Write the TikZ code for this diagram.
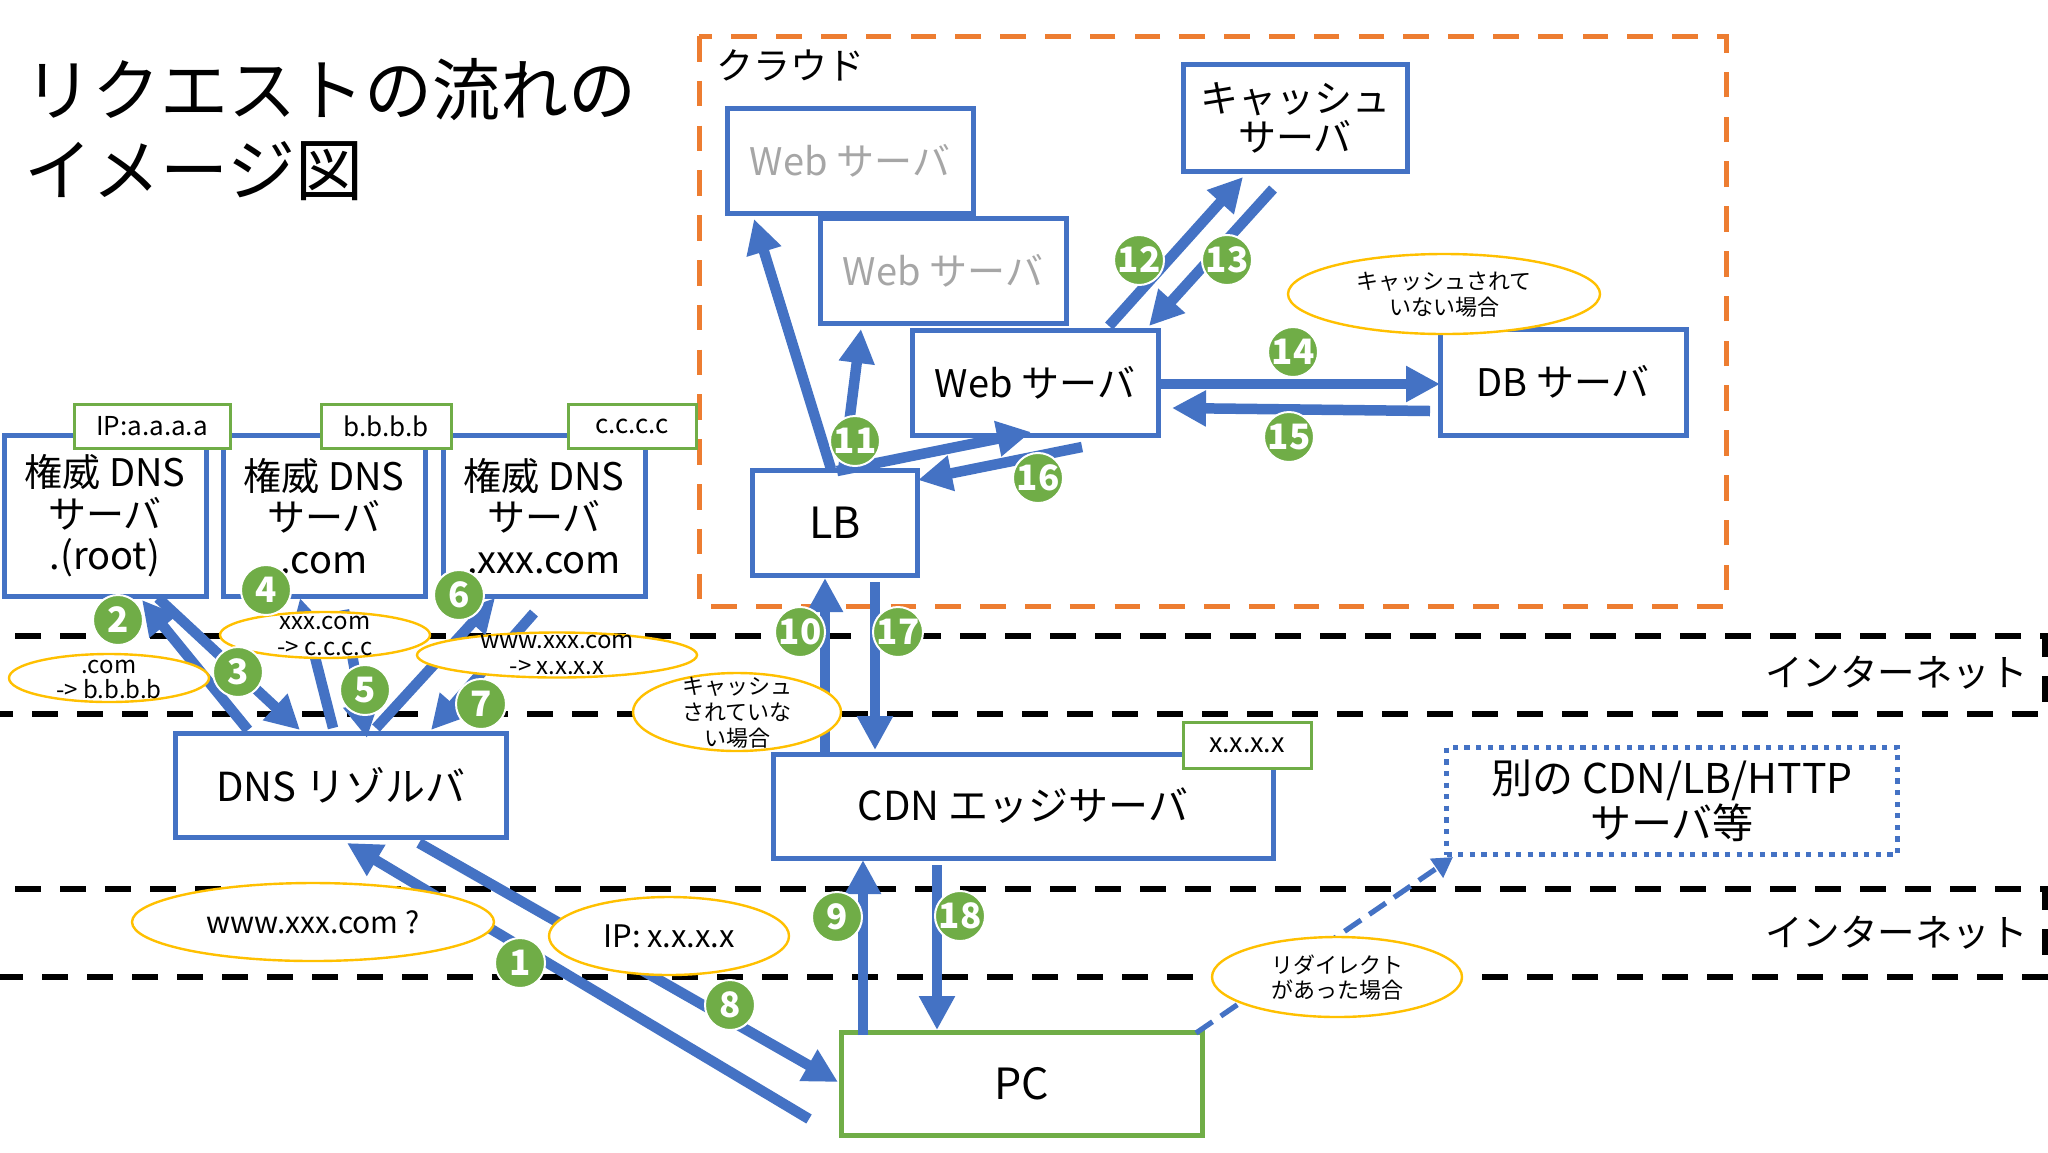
\documentclass[tikz,border=0pt]{standalone}
\usepackage{fontspec}
\setmainfont{Noto Sans CJK JP}
\usetikzlibrary{arrows.meta,shapes.geometric}
\definecolor{bl}{HTML}{4472C4}
\definecolor{gr}{HTML}{70AD47}
\definecolor{og}{HTML}{ED7D31}
\definecolor{yl}{HTML}{FFC000}
\definecolor{gy}{HTML}{A6A6A6}
\newcommand\fsz[2]{\fontsize{#1pt}{#2pt}\selectfont}
\begin{document}
\begin{tikzpicture}[x=0.5pt,y=-0.5pt,
  box/.style={draw=bl, line width=2.5pt, fill=white, inner sep=0pt, align=center, font={\fsz{19}{21}}},
  lbl/.style={draw=gr, line width=1.5pt, fill=white, inner sep=0pt, font={\fsz{13}{15}}},
  arr/.style={draw=bl, line width=5.25pt, -{Triangle[length=17pt,width=17pt]}},
  num/.style={circle, fill=gr, draw=white, line width=1pt, minimum size=25pt, inner sep=0pt, text=white, font={\bfseries\fsz{17.5}{17.5}}},
  ell/.style={draw=yl, line width=1.2pt, fill=white},
  etxt/.style={align=center, inner sep=0pt},
  band/.style={draw=black, line width=3pt, dash pattern=on 13pt off 9.5pt},
]
\useasboundingbox (0,0) rectangle (2048,1152);
\fill[white] (0,0) rectangle (2048,1152);

% title
\node[anchor=west, inner sep=0pt, align=left, font={\fsz{34}{40}}] (title) at (24,130) {リクエストの流れの\\イメージ図};

% internet bands
\draw[band] (-30,636) -- (2045,636) -- (2045,714) -- (-30,714);
\draw[band] (-30,889) -- (2045,889) -- (2045,977) -- (-30,977);
\node[anchor=east, inner sep=0pt, font={\fsz{18.75}{20}}] (net1) at (2028,673) {インターネット};
\node[anchor=east, inner sep=0pt, font={\fsz{18.75}{20}}] (net2) at (2028,933) {インターネット};

% cloud
\draw[draw=og, line width=2.5pt, dash pattern=on 12.8pt off 9.6pt] (699,36) rectangle (1726,606);
\node[anchor=west, inner sep=0pt, font={\fsz{18.5}{20}}] (cloud) at (716,65) {クラウド};

% servers in cloud
\node[box, minimum width=123pt, minimum height=52.5pt, text=gy] (web1) at (850,161) {Web サーバ};
\node[box, minimum width=123pt, minimum height=52.5pt, text=gy] (web2) at (943,271) {Web サーバ};
\node[box, minimum width=123pt, minimum height=52.5pt] (web) at (1035,383) {Web サーバ};
\node[box, minimum width=112pt, minimum height=53.5pt, font={\fsz{19}{19.5}}] (cache) at (1295,118) {キャッシュ\\サーバ};
\node[box, minimum width=123pt, minimum height=53pt] (db) at (1563,382) {DB サーバ};
\node[box, minimum width=82.5pt, minimum height=52.5pt, font={\fsz{21.5}{22}}] (lb) at (835,523) {LB};

% DNS authority
\node[box, minimum width=101pt, minimum height=80.5pt, font={\fsz{19}{20.75}}] (root) at (105,516) {権威 DNS\\サーバ\\.(root)};
\node[box, minimum width=101pt, minimum height=80.5pt, font={\fsz{19}{20.75}}] (com) at (324,516) {権威 DNS\\サーバ\\.com};
\node[box, minimum width=101pt, minimum height=80.5pt, font={\fsz{19}{20.75}}] (xxx) at (544,516) {権威 DNS\\サーバ\\.xxx.com};
\node[lbl, minimum width=78pt, minimum height=22pt] (ipa) at (152,426) {IP:a.a.a.a};
\node[lbl, minimum width=65pt, minimum height=22pt] (ipb) at (386,426) {b.b.b.b};
\node[lbl, minimum width=64pt, minimum height=22pt] (ipc) at (632,426) {c.c.c.c};

% resolver, cdn, pc, other
\node[box, minimum width=165.5pt, minimum height=52pt, font={\fsz{20}{22}}] (res) at (341,785) {DNS リゾルバ};
\node[box, minimum width=250pt, minimum height=52pt, font={\fsz{20}{22}}] (cdn) at (1023,806) {CDN エッジサーバ};
\node[lbl, minimum width=64pt, minimum height=23pt, font={\fsz{13.5}{15}}] (ipx) at (1247,745) {x.x.x.x};
\node[box, draw=gr, minimum width=180.5pt, minimum height=51.5pt, font={\fsz{21.5}{22}}] (pc) at (1022,1084) {PC};
\node[box, minimum width=225.5pt, minimum height=53.5pt, dash pattern=on 2.6pt off 3.2pt, font={\fsz{20.5}{22.5}}] (other) at (1672,801) {別の CDN/LB/HTTP\\サーバ等};

% arrow end points
\coordinate (p1a) at (809,1119); \coordinate (p1b) at (347,843);
\coordinate (p8a) at (419,843);  \coordinate (p8b) at (838,1082);
\coordinate (p2a) at (248,730);  \coordinate (p2b) at (142,600);
\coordinate (p3a) at (158,598);  \coordinate (p3b) at (300,730);
\coordinate (p4a) at (333,728);  \coordinate (p4b) at (300,598);
\coordinate (p5a) at (344,610);  \coordinate (p5b) at (367,738);
\coordinate (p6a) at (376,728);  \coordinate (p6b) at (495,598);
\coordinate (p7a) at (534,613);  \coordinate (p7b) at (431,730);
\coordinate (p10a) at (825,754); \coordinate (p10b) at (825,578);
\coordinate (p17a) at (875,582); \coordinate (p17b) at (875,750);
\coordinate (p9a) at (863,1035); \coordinate (p9b) at (863,860);
\coordinate (p18a) at (937,865); \coordinate (p18b) at (937,1030);
\coordinate (p11a) at (831,469); \coordinate (p11b) at (754,219);
\coordinate (p11c) at (843,471); \coordinate (p11d) at (861,329);
\coordinate (p11e) at (837,471); \coordinate (p11f) at (1031,432);
\coordinate (p16a) at (1082,447); \coordinate (p16b) at (918,480);
\coordinate (p12a) at (1109,326); \coordinate (p12b) at (1243,177);
\coordinate (p13a) at (1273,189); \coordinate (p13b) at (1149,326);
\coordinate (p14a) at (1159,384); \coordinate (p14b) at (1440,384);
\coordinate (p15a) at (1430,411); \coordinate (p15b) at (1172,408);
\coordinate (rda) at (1196,1033); \coordinate (rdb) at (1453,857);

% arrows
\draw[arr] (p1a) -- (p1b);
\draw[arr] (p8a) -- (p8b);
\draw[arr] (p2a) -- (p2b);
\draw[arr] (p3a) -- (p3b);
\draw[arr] (p4a) -- (p4b);
\draw[arr] (p5a) -- (p5b);
\draw[arr] (p6a) -- (p6b);
\draw[arr] (p7a) -- (p7b);
\draw[arr] (p10a) -- (p10b);
\draw[arr] (p17a) -- (p17b);
\draw[arr] (p9a) -- (p9b);
\draw[arr] (p18a) -- (p18b);
\draw[arr] (p11a) -- (p11b);
\draw[arr] (p11c) -- (p11d);
\draw[arr] (p11e) -- (p11f);
\draw[arr] (p16a) -- (p16b);
\draw[arr] (p12a) -- (p12b);
\draw[arr] (p13a) -- (p13b);
\draw[arr] (p14a) -- (p14b);
\draw[arr] (p15a) -- (p15b);
\draw[draw=bl, line width=2.6pt, dash pattern=on 10pt off 5pt, -{Triangle[length=10pt,width=11pt]}] (rda) -- (rdb);

% ellipses
\draw[ell] (109,678) ellipse [x radius=100, y radius=24];
\node[etxt, font={\fsz{12}{12.5}}] (ecom) at (109,679) {.com\\-> b.b.b.b};
\draw[ell] (325,635) ellipse [x radius=105, y radius=23];
\node[etxt, font={\fsz{12}{13}}] (exxx) at (325,636) {xxx.com\\-> c.c.c.c};
\draw[ell] (557,655) ellipse [x radius=140, y radius=22.5];
\node[etxt, font={\fsz{12}{13}}] (ewww) at (557,655) {www.xxx.com\\-> x.x.x.x};
\draw[ell] (737,712) ellipse [x radius=104, y radius=39];
\node[etxt, font={\fsz{11}{13}}] (ecdn) at (737,713) {キャッシュ\\されていな\\い場合};
\draw[ell] (313,922) ellipse [x radius=181, y radius=39];
\node[etxt, font={\fsz{15}{16}}] (eq) at (313,922) {www.xxx.com ?};
\draw[ell] (669,936) ellipse [x radius=120, y radius=39];
\node[etxt, font={\fsz{15.5}{16}}] (eip) at (669,936) {IP: x.x.x.x};
\draw[ell] (1337,977) ellipse [x radius=125, y radius=40];
\node[etxt, font={\fsz{11}{12.5}}] (erd) at (1337,978) {リダイレクト\\があった場合};
\draw[ell] (1444,294) ellipse [x radius=156, y radius=40];
\node[etxt, font={\fsz{11}{13}}] (edb) at (1444,295) {キャッシュされて\\いない場合};

% numbers
\node[num] (n1) at (520,963) {1};
\node[num] (n2) at (118,620) {2};
\node[num] (n3) at (238,672) {3};
\node[num] (n4) at (266,590) {4};
\node[num] (n5) at (365,690) {5};
\node[num] (n6) at (459,595) {6};
\node[num] (n7) at (481,704) {7};
\node[num] (n8) at (730,1005) {8};
\node[num] (n9) at (837,917) {9};
\node[num] (n10) at (800,632) {10};
\node[num] (n11) at (855,441) {11};
\node[num] (n12) at (1139,260) {12};
\node[num] (n13) at (1227,260) {13};
\node[num] (n14) at (1293,352) {14};
\node[num] (n15) at (1289,437) {15};
\node[num] (n16) at (1038,478) {16};
\node[num] (n17) at (898,632) {17};
\node[num] (n18) at (960,916) {18};
\end{tikzpicture}
\end{document}
